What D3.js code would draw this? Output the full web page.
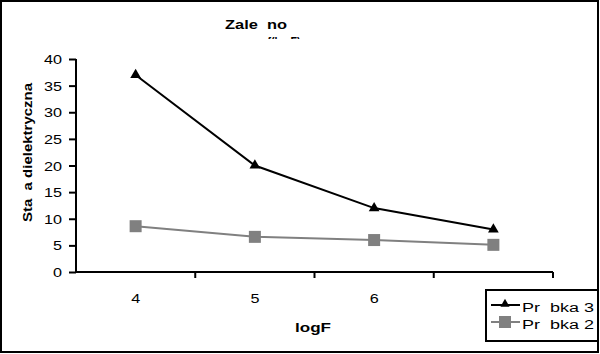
<!doctype html>
<html>
  <head>
    <meta charset="utf-8" />
    <title>Zależność</title>
    <script src="https://cdn.jsdelivr.net/npm/d3@7"></script>
    <style>
      html,
      body {
        margin: 0;
        padding: 0;
        background: #fff;
        overflow: hidden;
      }
      text {
        font-family: "Liberation Sans", Arial, sans-serif;
        white-space: pre;
      }
    </style>
  </head>
  <body>
    <script>
      // categories on the x axis (the fourth one has no label)
      const categories = ["4", "5", "6", ""];
      const seriesNames = ["Pr  bka 3", "Pr  bka 2"];
      const probka3 = [37, 20, 12, 8];
      const probka2 = [8.6, 6.6, 6.0, 5.1];
      const yTicks = [0, 5, 10, 15, 20, 25, 30, 35, 40];

      const width = 600;
      const height = 354;
      const charW = 9; // glyphs in the original are stretched wide

      const svg = d3
        .select("body")
        .append("svg")
        .attr("width", width)
        .attr("height", height);

      // outer chart border
      svg
        .append("rect")
        .attr("x", 1)
        .attr("y", 1)
        .attr("width", 597)
        .attr("height", 351)
        .attr("fill", "#fff")
        .attr("stroke", "#000")
        .attr("stroke-width", 2);

      const x = d3.scaleBand().domain(d3.range(categories.length)).range([76, 553]);
      const y = d3.scaleLinear().domain([0, 40]).range([272, 59]);
      const cx = (i) => x(i) + x.bandwidth() / 2;

      function wideText(sel, len) {
        return sel
          .attr("xml:space", "preserve")
          .attr("textLength", len)
          .attr("lengthAdjust", "spacingAndGlyphs");
      }

      // title (second line clipped like in the original)
      svg
        .append("clipPath")
        .attr("id", "titleClip")
        .append("rect")
        .attr("x", 0)
        .attr("y", 0)
        .attr("width", width)
        .attr("height", 39);
      const title = svg.append("g").attr("clip-path", "url(#titleClip)");
      title
        .append("text")
        .attr("x", 256)
        .attr("y", 29)
        .attr("text-anchor", "middle")
        .attr("font-size", 12.5)
        .attr("font-weight", "bold")
        .text("Zale  no")
        .call(wideText, 62);
      title
        .append("text")
        .attr("x", 284)
        .attr("y", 46)
        .attr("text-anchor", "middle")
        .attr("font-size", 12.5)
        .attr("font-weight", "bold")
        .text("f(logF)")
        .call(wideText, 33);

      // y axis
      const yAxis = svg
        .append("g")
        .attr("transform", "translate(76,0)")
        .call(d3.axisLeft(y).tickValues(yTicks).tickSize(7).tickPadding(7));
      yAxis.select(".domain").attr("stroke-width", 2).attr("d", "M0,59V272");
      yAxis.selectAll(".tick line").attr("stroke-width", 2);
      yAxis
        .selectAll(".tick text")
        .attr("font-size", 12.5)
        .attr("font-family", "Liberation Sans, Arial, sans-serif")
        .attr("fill", "#000")
        .attr("dy", "0.36em")
        .each(function (d) {
          wideText(d3.select(this), String(d).length * charW);
        });

      // x axis
      const xAxis = svg.append("g").attr("transform", "translate(0,272)");
      xAxis
        .append("line")
        .attr("x1", 76)
        .attr("x2", 553)
        .attr("stroke", "#000")
        .attr("stroke-width", 2);
      xAxis
        .selectAll("line.tick")
        .data(d3.range(1, categories.length + 1))
        .join("line")
        .attr("class", "tick")
        .attr("x1", (d) => x.step() * d + 76)
        .attr("x2", (d) => x.step() * d + 76)
        .attr("y1", 0)
        .attr("y2", 6)
        .attr("stroke", "#000")
        .attr("stroke-width", 2);
      xAxis
        .selectAll("text")
        .data(categories.filter((c) => c !== ""))
        .join("text")
        .attr("x", (d, i) => cx(i))
        .attr("y", 31)
        .attr("text-anchor", "middle")
        .attr("font-size", 12.5)
        .text((d) => d)
        .each(function (d) {
          wideText(d3.select(this), d.length * charW);
        });

      // axis titles
      svg
        .append("text")
        .attr("transform", "translate(32,152.5) rotate(-90)")
        .attr("text-anchor", "middle")
        .attr("font-size", 12.5)
        .attr("font-weight", "bold")
        .text("Sta  a dielektryczna")
        .call(wideText, 139);
      svg
        .append("text")
        .attr("x", 313)
        .attr("y", 332)
        .attr("text-anchor", "middle")
        .attr("font-size", 12.5)
        .attr("font-weight", "bold")
        .text("logF")
        .call(wideText, 36);

      const line = d3
        .line()
        .x((d, i) => cx(i))
        .y((d) => y(d));

      // Próbka 2 (grey squares)
      svg
        .append("path")
        .datum(probka2)
        .attr("d", line)
        .attr("fill", "none")
        .attr("stroke", "#808080")
        .attr("stroke-width", 2);
      svg
        .append("g")
        .selectAll("rect")
        .data(probka2)
        .join("rect")
        .attr("x", (d, i) => cx(i) - 6)
        .attr("y", (d) => y(d) - 6)
        .attr("width", 12)
        .attr("height", 12)
        .attr("fill", "#808080");

      // Próbka 3 (black triangles)
      const tri = d3.symbol().type(d3.symbolTriangle).size(50);
      svg
        .append("path")
        .datum(probka3)
        .attr("d", line)
        .attr("fill", "none")
        .attr("stroke", "#000")
        .attr("stroke-width", 2);
      svg
        .append("g")
        .selectAll("path")
        .data(probka3)
        .join("path")
        .attr("d", tri)
        .attr("transform", (d, i) => `translate(${cx(i)},${y(d)})`)
        .attr("fill", "#000");

      // legend
      const legend = svg.append("g");
      legend
        .append("rect")
        .attr("x", 486)
        .attr("y", 290)
        .attr("width", 112)
        .attr("height", 51)
        .attr("fill", "#fff")
        .attr("stroke", "#000")
        .attr("stroke-width", 2);
      const entries = [
        { name: seriesNames[0], color: "#000", shape: "tri" },
        { name: seriesNames[1], color: "#808080", shape: "sq" },
      ];
      entries.forEach((e, i) => {
        const ly = 305 + i * 17;
        legend
          .append("line")
          .attr("x1", 491)
          .attr("x2", 520)
          .attr("y1", ly)
          .attr("y2", ly)
          .attr("stroke", e.color)
          .attr("stroke-width", 2);
        if (e.shape === "tri") {
          legend
            .append("path")
            .attr("d", d3.symbol().type(d3.symbolTriangle).size(36)())
            .attr("transform", `translate(505,${ly - 1})`)
            .attr("fill", e.color);
        } else {
          legend
            .append("rect")
            .attr("x", 499)
            .attr("y", ly - 6)
            .attr("width", 12)
            .attr("height", 12)
            .attr("fill", e.color);
        }
        legend
          .append("text")
          .attr("x", 522)
          .attr("y", ly + 6.5)
          .attr("font-size", 12.5)
          .text(e.name)
          .call(wideText, 72);
      });
    </script>
  </body>
</html>
